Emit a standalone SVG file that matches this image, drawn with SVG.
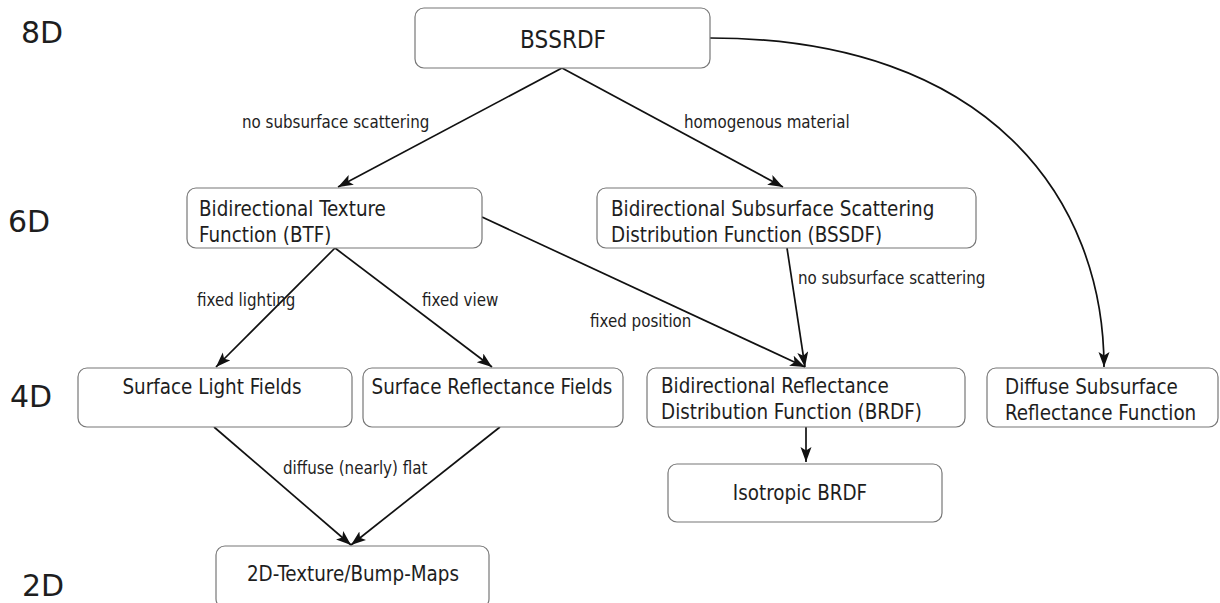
<svg xmlns="http://www.w3.org/2000/svg" width="1220" height="603" viewBox="0 0 1220 603">
<style>
.box{fill:#fff;stroke:#777;stroke-width:1.2}
.t{font-family:"DejaVu Sans Condensed","DejaVu Sans",sans-serif;font-stretch:condensed;font-size:20.4px;fill:#1e1e1e}
.c{text-anchor:middle}
.big{font-size:24px}
.lbl{font-family:"DejaVu Sans Condensed","DejaVu Sans",sans-serif;font-stretch:condensed;font-size:16.8px;fill:#1e1e1e}
.dim{font-family:"DejaVu Sans",sans-serif;font-size:30px;fill:#1e1e1e}
.e{fill:none;stroke:#111;stroke-width:1.7}
</style>
<defs>
<marker id="ah" markerUnits="userSpaceOnUse" markerWidth="18" markerHeight="13" refX="15" refY="5.5" orient="auto">
<path d="M0,0 L15,5.5 L0,11 L3.5,5.5 Z" fill="#111"/>
</marker>
</defs>
<rect width="1220" height="603" fill="#fff"/>
<g id="dims">
<text class="dim" x="21" y="43">8D</text>
<text class="dim" x="8" y="232">6D</text>
<text class="dim" x="10" y="407">4D</text>
<text class="dim" x="22" y="596">2D</text>
</g>
<g id="connectors">
<line class="e" x1="562" y1="68" x2="338" y2="187" marker-end="url(#ah)"/>
<line class="e" x1="562" y1="68" x2="783" y2="187" marker-end="url(#ah)"/>
<line class="e" x1="335" y1="248" x2="216" y2="367" marker-end="url(#ah)"/>
<line class="e" x1="335" y1="248" x2="492" y2="367" marker-end="url(#ah)"/>
<line class="e" x1="482" y1="217" x2="805" y2="367" marker-end="url(#ah)"/>
<line class="e" x1="787" y1="248" x2="805" y2="367" marker-end="url(#ah)"/>
<path class="e" d="M710,38 C990,38 1104,200 1104,367" marker-end="url(#ah)"/>
<line class="e" x1="806" y1="427" x2="806" y2="462" marker-end="url(#ah)"/>
<line class="e" x1="214" y1="427" x2="351" y2="545" marker-end="url(#ah)"/>
<line class="e" x1="500" y1="427" x2="351" y2="545" marker-end="url(#ah)"/>
<text class="lbl" x="242" y="128">no subsurface scattering</text>
<text class="lbl" x="684" y="128">homogenous material</text>
<text class="lbl" x="197" y="306">fixed lighting</text>
<text class="lbl" x="422" y="306">fixed view</text>
<text class="lbl" x="590" y="327">fixed position</text>
<text class="lbl" x="798" y="284">no subsurface scattering</text>
<text class="lbl" x="283" y="474">diffuse (nearly) flat</text>
</g>
<g id="bssrdf">
<rect class="box" x="415" y="8" width="295" height="60" rx="9"/>
<text class="t c big" x="563" y="48">BSSRDF</text>
</g>
<g id="btf">
<rect class="box" x="187" y="188" width="295" height="60" rx="9"/>
<text class="t" x="199" y="216">Bidirectional Texture</text>
<text class="t" x="199" y="242">Function (BTF)</text>
</g>
<g id="bssdf">
<rect class="box" x="597" y="188" width="379" height="60" rx="9"/>
<text class="t" x="611" y="216">Bidirectional Subsurface Scattering</text>
<text class="t" x="611" y="242">Distribution Function (BSSDF)</text>
</g>
<g id="slf">
<rect class="box" x="78" y="368" width="274" height="59" rx="9"/>
<text class="t c" x="212" y="394">Surface Light Fields</text>
</g>
<g id="srf">
<rect class="box" x="363" y="368" width="260" height="59" rx="9"/>
<text class="t c" x="492" y="394">Surface Reflectance Fields</text>
</g>
<g id="brdf">
<rect class="box" x="647" y="368" width="318" height="59" rx="9"/>
<text class="t" x="661" y="393">Bidirectional Reflectance</text>
<text class="t" x="661" y="419">Distribution Function (BRDF)</text>
</g>
<g id="dsrf">
<rect class="box" x="987" y="368" width="231" height="59" rx="9"/>
<text class="t" x="1005" y="394">Diffuse Subsurface</text>
<text class="t" x="1005" y="420">Reflectance Function</text>
</g>
<g id="iso">
<rect class="box" x="668" y="464" width="274" height="58" rx="9"/>
<text class="t c" x="800" y="500">Isotropic BRDF</text>
</g>
<g id="tex2d">
<rect class="box" x="216" y="546" width="273" height="62" rx="9"/>
<text class="t c" x="353" y="581">2D-Texture/Bump-Maps</text>
</g>
</svg>
